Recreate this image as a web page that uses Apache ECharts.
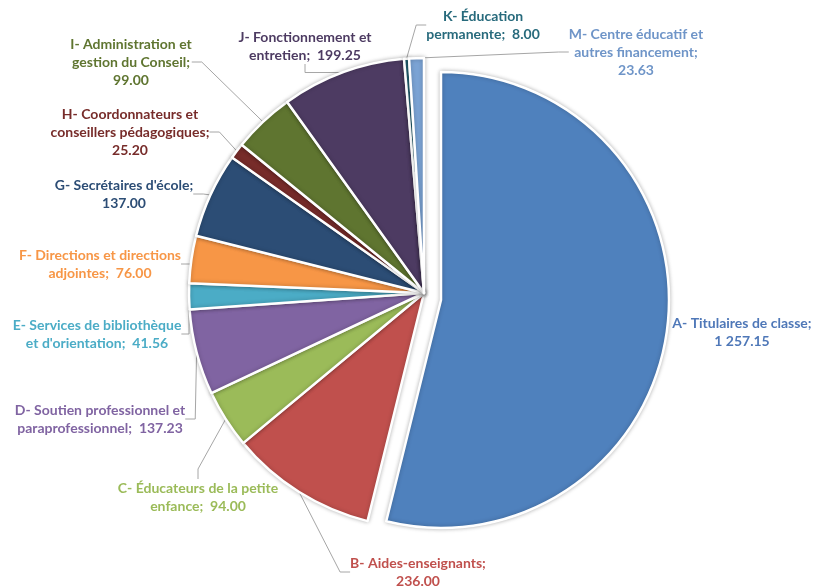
<!DOCTYPE html>
<html>
<head>
<meta charset="utf-8">
<script src="https://cdn.jsdelivr.net/npm/echarts@6/dist/echarts.min.js"></script>
<style>html,body{margin:0;padding:0;background:#fff}#c{width:826px;height:586px}</style>
</head>
<body>
<div id="c"></div>
<script>
// ---- data ----
var categories = [
  "A- Titulaires de classe",
  "B- Aides-enseignants",
  "C- Éducateurs de la petite\nenfance",
  "D- Soutien professionnel et\nparaprofessionnel",
  "E- Services de bibliothèque\net d'orientation",
  "F- Directions et directions\nadjointes",
  "G- Secrétaires d'école",
  "H- Coordonnateurs et\nconseillers pédagogiques",
  "I- Administration et\ngestion du Conseil",
  "J- Fonctionnement et\nentretien",
  "K- Éducation\npermanente",
  "M- Centre éducatif et\nautres financement"
];
var values = [1257.15, 236.00, 94.00, 137.23, 41.56, 76.00, 137.00, 25.20, 99.00, 199.25, 8.00, 23.63];
var valueOnOwnLine = [true, true, false, false, false, false, true, true, true, false, false, true];

// ---- styles / layout ----
var colors = ["#4F81BD","#C0504D","#9BBB59","#8064A2","#4BACC6","#F79646","#2C4D75","#772C2A","#5F7530","#4D3B62","#276A7C","#7BA3D4"];
var labelColors = ["#4F78B8","#C0504D","#9BBB59","#8064A2","#4BACC6","#F79646","#2C4D75","#772C2A","#5F7530","#4D3B62","#276A7C","#6F95C8"];
var labelPos = [[742,332],[418,572],[198,497],[100,419],[97,334],[100,264],[124,194],[130,132],[131,62],[305,46],[483,25],[636,52]];

function fmt(v){
  var s = v.toFixed(2).split('.');
  s[0] = s[0].replace(/\B(?=(\d{3})+(?!\d))/g, ' ');
  return s.join('.');
}
function labelText(i){
  return categories[i] + ';' + (valueOnOwnLine[i] ? '\n' : '  ') + fmt(values[i]);
}
var labelBase = {fontFamily:'Lato', fontWeight:'bold', fontSize:14, lineHeight:18, align:'center'};

function buildData(mainOnly){
  return values.map(function(v,i){
    var visible = mainOnly ? (i === 0) : (i !== 0);
    var d = {name: categories[i], value: v};
    if (visible) {
      d.itemStyle = {color: colors[i]};
      d.label = Object.assign({show:true, color: labelColors[i], formatter: labelText(i)}, labelBase);
      d.labelLine = {show: i !== 0};
    } else {
      d.itemStyle = {color:'rgba(0,0,0,0)', borderWidth:0, shadowBlur:0};
      d.label = {show:false};
      d.labelLine = {show:false};
      d.emphasis = {disabled:true};
    }
    return d;
  });
}
function layoutFn(params){
  var p = labelPos[params.dataIndex];
  return {x:p[0], y:p[1], align:'center', verticalAlign:'middle'};
}
var common = {
  type:'pie', startAngle:90, clockwise:true, animation:false, avoidLabelOverlap:false,
  itemStyle:{borderColor:'#fff', borderWidth:2.5, shadowBlur:4, shadowColor:'rgba(0,0,0,0.25)'},
  labelLine:{lineStyle:{color:'#A6A6A6', width:1}, length:10, length2:10},
  labelLayout: layoutFn,
  silent:true
};
var chart = echarts.init(document.getElementById('c'), null, {renderer:'canvas'});
chart.setOption({
  backgroundColor:'#fff',
  series:[
    Object.assign({}, common, {center:[424,293], radius:235, data: buildData(false)}),
    Object.assign({}, common, {center:[441,300], radius:228, data: buildData(true)})
  ]
});
</script>
</body>
</html>
